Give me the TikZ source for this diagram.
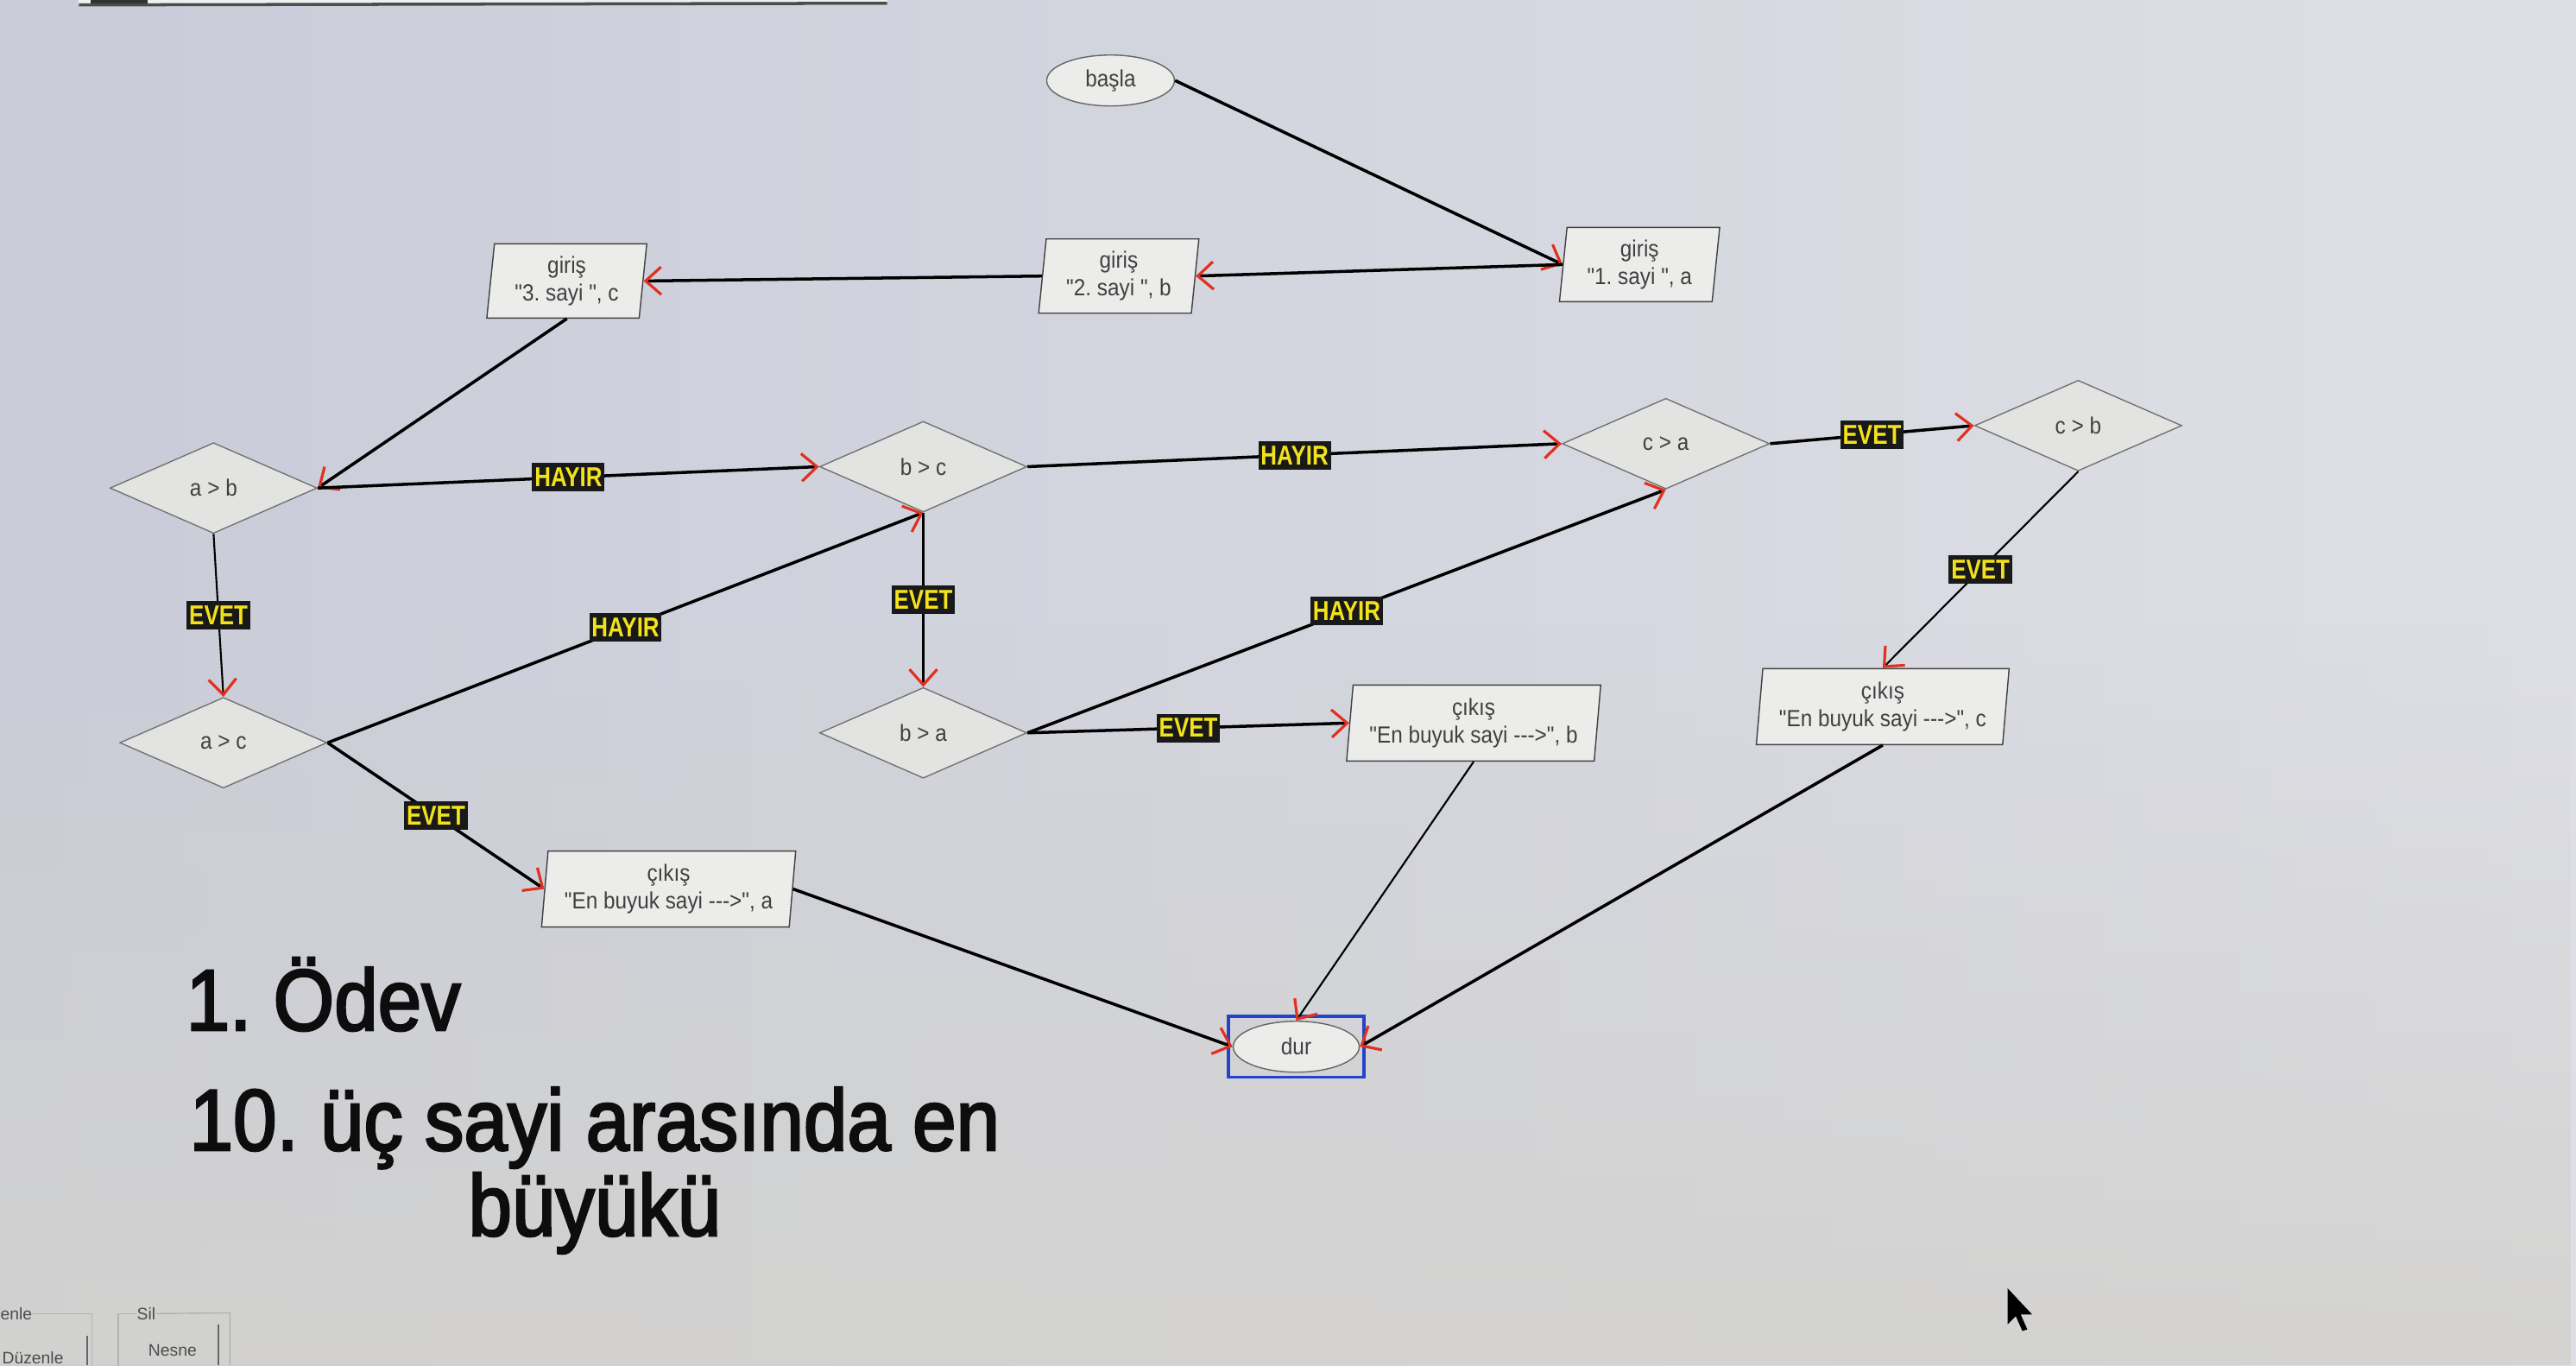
\documentclass[tikz,border=0pt]{standalone}
\usepackage{fontspec}
\setmainfont{Liberation Sans}
\newfontfamily\flowfam{Liberation Sans}[FakeStretch=0.9]
\newfontfamily\tagfam{Liberation Sans}[FakeStretch=0.82]
\newfontfamily\titlefam{Liberation Sans}[FakeStretch=0.9, FakeBold=2.5]
\frenchspacing
\usetikzlibrary{shapes.geometric, arrows.meta, fit, fadings}
\definecolor{screenBlue}{HTML}{C9CCD8}
\definecolor{screenGray}{HTML}{DEDFE6}
\definecolor{screenWarm}{HTML}{D3D2CF}
\definecolor{shapeFill}{HTML}{ECECEA}
\definecolor{tagYellow}{HTML}{F2E21C}
\definecolor{tipRed}{HTML}{E0301E}
\definecolor{frameBlue}{HTML}{2443C8}

\begin{document}
\begin{tikzpicture}[
  x=0.1903mm, y=-0.1903mm,
  >={Straight Barb[length=1.8mm, width=3.2mm, color=tipRed, line width=0.9pt]},
  flow/.style={->, draw=black, line width=1pt},
  thinflow/.style={flow, line width=0.6pt},
  decision/.style={diamond, draw=black!55, fill=shapeFill!96!black,
                   minimum width=24mm, minimum height=10.5mm, inner sep=0pt,
                   text=black!75, font=\flowfam\fontsize{7.7}{9}\selectfont},
  inout/.style={trapezium, trapezium left angle=84, trapezium right angle=96,
                trapezium stretches=true, draw=black!75, fill=shapeFill,
                minimum width=18.6mm, minimum height=8.6mm, inner sep=1pt,
                align=center, text=black!75,
                font=\flowfam\fontsize{7.7}{9}\selectfont},
  output/.style={inout, minimum width=29.5mm, minimum height=8.8mm},
  terminal/.style={ellipse, draw=black!60, fill=shapeFill,
                   minimum width=14.8mm, minimum height=5.9mm, inner sep=0pt,
                   text=black!75, font=\flowfam\fontsize{7.7}{9}\selectfont},
  answer/.style={fill=black!90, text=tagYellow, inner sep=0.8pt,
                 minimum height=3.3mm, font=\tagfam\bfseries\fontsize{9}{10}\selectfont},
  title/.style={text=black!95, inner sep=0pt, font=\titlefam\fontsize{28.7}{30}\selectfont},
  screen/.style={text=black!70, inner sep=0pt, font=\fontsize{5.5}{6}\selectfont}
]
  % photographed screen
  \useasboundingbox (0,0) rectangle (1568,831);
  \shade[left color=screenBlue, right color=screenGray] (0,0) rectangle (1568,831);
  \fill[screenWarm, path fading=north, opacity=0.9] (0,380) rectangle (1568,831);
  \fill[gray!12] (48,0) rectangle (540,3);
  \draw[black!70, line width=1pt] (48,3) -- (540,2);
  \fill[black!80] (55,0) rectangle (90,2);

  \node[terminal] (basla) at (676,49) {başla};
  \node[inout]    (giris1) at (998,161) {giriş\\"1. sayi ", a};
  \node[inout]    (giris2) at (681,168) {giriş\\"2. sayi ", b};
  \node[inout]    (giris3) at (345,171) {giriş\\"3. sayi ", c};

  \node[decision] (ab) at (130,297) {a > b};
  \node[decision] (bc) at (562,284) {b > c};
  \node[decision] (ca) at (1014,270) {c > a};
  \node[decision] (cb) at (1265,259) {c > b};
  \node[decision] (ac) at (136,452) {a > c};
  \node[decision] (ba) at (562,446) {b > a};

  \node[output] (cikisB) at (897,440) {çıkış\\"En buyuk sayi -\kern0pt-\kern0pt->", b};
  \node[output] (cikisC) at (1146,430) {çıkış\\"En buyuk sayi -\kern0pt-\kern0pt->", c};
  \node[output] (cikisA) at (407,541) {çıkış\\"En buyuk sayi -\kern0pt-\kern0pt->", a};

  \node[terminal, minimum width=14.6mm] (dur) at (789,637) {dur};
  \node[draw=frameBlue, line width=1pt, inner sep=0.5mm, fit=(dur)] (durframe) {};

  \draw[flow] (basla.east) -- (giris1.west);
  \draw[flow] (giris1.west) -- (giris2.east);
  \draw[flow] (giris2.west) -- (giris3.east);
  \draw[flow] (giris3.south) -- (ab.east);

  \draw[flow] (ab.east) -- node[answer] {HAYIR} (bc.west);
  \draw[thinflow] (ab.south) -- node[answer] {EVET} (ac.north);
  \draw[flow] (ac.east) -- node[answer] {HAYIR} (bc.south);
  \draw[flow] (ac.east) -- node[answer] {EVET} (cikisA.west);
  \draw[flow] (bc.east) -- node[answer] {HAYIR} (ca.west);
  \draw[thinflow] (bc.south) -- node[answer] {EVET} (ba.north);
  \draw[flow] (ba.east) -- node[answer] {HAYIR} (ca.south);
  \draw[flow] (ba.east) -- node[answer] {EVET} (cikisB.west);
  \draw[flow] (ca.east) -- node[answer] {EVET} (cb.west);
  \draw[thinflow] (cb.south) -- node[answer] {EVET} (cikisC.north);

  \draw[thinflow] (cikisB.south) -- (dur.north);
  \draw[flow] (cikisC.south) -- (dur.east);
  \draw[flow] (cikisA.east) -- (dur.west);

  \node[title, anchor=base west] (odev) at (113,627) {1. Ödev};
  \node[title, anchor=base] (task) at (362,700) {10. üç sayi arasında en};
  \node[title, anchor=base] (taskend) at (362,752) {büyükü};

  % window controls at the bottom edge
  \node[screen, anchor=base west] (enle) at (0,803) {enle};
  \node[screen, anchor=base west] (sil) at (83,803) {Sil};
  \node[screen, anchor=base west] (duzenle) at (1,830) {Düzenle};
  \node[screen, anchor=base west] (nesne) at (90,825) {Nesne};
  \draw[gray!60, line width=0.4pt] (enle.east) -- ++(36,0) -- ++(0,33);
  \draw[gray!60, line width=0.4pt] (sil.west) -- ++(-11,0) -- ++(0,33);
  \draw[gray!60, line width=0.4pt] (sil.east) -- (140,799) -- (140,831);
  \draw[black!60, line width=0.6pt] (53,813) -- (53,831);
  \draw[black!60, line width=0.6pt] (133,806) -- (133,831);

  \fill[black] (1222,784) -- (1222,806) -- (1227,801) -- (1231,810) -- (1234,809)
    -- (1230,800) -- (1237,800) -- cycle;
\end{tikzpicture}
\end{document}
